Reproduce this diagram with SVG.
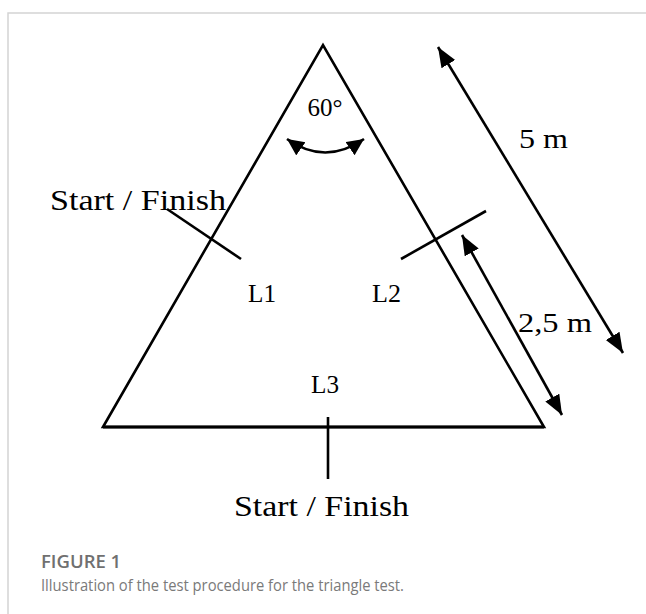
<svg xmlns="http://www.w3.org/2000/svg" width="646" height="614" viewBox="0 0 646 614">
<defs>
<style>
.ln{stroke:#000;stroke-width:2.6;fill:none}
.lbl{font-family:"Liberation Serif","Times New Roman",serif;fill:#000}
.cap{font-family:"Open Sans","Liberation Sans",sans-serif}
</style>
<marker id="ah" markerUnits="userSpaceOnUse" markerWidth="22" markerHeight="18" refX="20" refY="8" orient="auto-start-reverse">
<path d="M0,0 L20,8 L0,16 Z" fill="#000"/>
</marker>
<marker id="ahs" markerUnits="userSpaceOnUse" markerWidth="20" markerHeight="18" refX="17" refY="8" orient="auto-start-reverse">
<path d="M0,0 L17,8 L0,16 Z" fill="#000"/>
</marker>
</defs>
<rect width="646" height="614" fill="#fff"/>
<path d="M8,614 V13 H646" fill="none" stroke="#d4d4d4" stroke-width="1.5"/>

<g id="triangle">
<polygon points="103,427 323,45 544,427" class="ln"/>
<line x1="103" y1="427" x2="544" y2="427" stroke="#000" stroke-width="3"/>
</g>

<g id="angle">
<text class="lbl" x="325" y="116" font-size="25" text-anchor="middle">60°</text>
</g>

<g id="start-left">
<text class="lbl" x="50" y="210" font-size="30" textLength="176" lengthAdjust="spacingAndGlyphs">Start / Finish</text>
</g>
<g id="l1"><text class="lbl" x="248" y="302" font-size="26" textLength="28" lengthAdjust="spacingAndGlyphs">L1</text></g>
<g id="l2"><text class="lbl" x="372" y="302" font-size="26" textLength="29" lengthAdjust="spacingAndGlyphs">L2</text></g>
<g id="l3"><text class="lbl" x="311" y="393" font-size="26" textLength="28" lengthAdjust="spacingAndGlyphs">L3</text></g>
<g id="start-bottom">
<text class="lbl" x="234" y="516" font-size="30" textLength="175" lengthAdjust="spacingAndGlyphs">Start / Finish</text>
</g>
<g id="dist-5m">
<text class="lbl" x="519" y="148" font-size="27" textLength="49" lengthAdjust="spacingAndGlyphs">5 m</text>
</g>
<g id="dist-25m">
<text class="lbl" x="518" y="332" font-size="27" textLength="74" lengthAdjust="spacingAndGlyphs">2,5 m</text>
</g>

<g id="connectors">
<line x1="167" y1="209" x2="241" y2="259" class="ln"/>
<line x1="401" y1="259" x2="486" y2="211" class="ln"/>
<line x1="328" y1="417" x2="328" y2="479" class="ln"/>
<line x1="438" y1="47" x2="623" y2="353" class="ln" marker-start="url(#ah)" marker-end="url(#ah)"/>
<line x1="462" y1="235" x2="562" y2="415" class="ln" marker-start="url(#ah)" marker-end="url(#ah)"/>
<path d="M287,139 Q325,166 364,139" class="ln" marker-start="url(#ahs)" marker-end="url(#ahs)"/>
</g>

<g id="caption">
<text class="cap" x="41" y="568" font-size="18.5" font-weight="600" fill="#707070">FIGURE 1</text>
<text class="cap" x="41" y="591" font-size="17" fill="#7a7a7a" textLength="363" lengthAdjust="spacingAndGlyphs">Illustration of the test procedure for the triangle test.</text>
</g>
</svg>
